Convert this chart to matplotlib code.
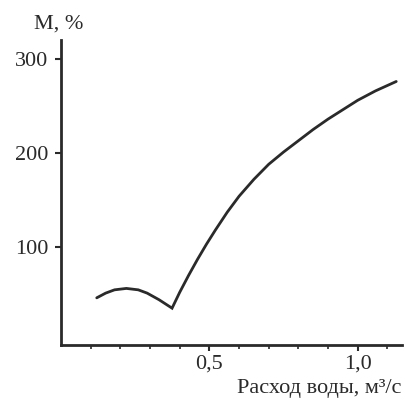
import matplotlib
matplotlib.use("Agg")
import matplotlib.pyplot as plt
from matplotlib.ticker import FixedLocator, FixedFormatter

# Data
left_x = [0.12, 0.15, 0.18, 0.22, 0.26, 0.29, 0.33, 0.374]
left_y = [46, 51, 54.5, 56, 54.5, 51, 44, 35]
right_x = [0.374, 0.40, 0.43, 0.46, 0.49, 0.52, 0.56, 0.60, 0.65, 0.70, 0.75, 0.80,
           0.85, 0.90, 0.95, 1.00, 1.06, 1.13]
right_y = [35, 52, 70, 87, 103, 118, 137, 154, 172, 188, 201, 213,
           225, 236, 246, 256, 266, 276]

x_major = [0.5, 1.0]
x_major_labels = ["0,5", "1,0"]
x_minor = [0.1, 0.2, 0.3, 0.4, 0.6, 0.7, 0.8, 0.9, 1.1]
y_ticks = [100, 200, 300]
y_labels = ["100", "200", "300"]

plt.rcParams['font.family'] = ['Liberation Serif', 'DejaVu Serif']

fig = plt.figure(figsize=(4.05, 4.01), dpi=100)
ax = fig.add_axes([0.151, 0.14, 0.842, 0.76])

col = '#2a2a2a'
ax.plot(left_x + right_x[1:], left_y + right_y[1:], color=col, lw=2.0,
        solid_joinstyle='miter', solid_capstyle='round')

ax.set_xlim(0, 1.15)
ax.set_ylim(-4, 320)

for s in ['top', 'right']:
    ax.spines[s].set_visible(False)
for s in ['left', 'bottom']:
    ax.spines[s].set_linewidth(2.0)
    ax.spines[s].set_color(col)

ax.xaxis.set_major_locator(FixedLocator(x_major))
ax.xaxis.set_major_formatter(FixedFormatter(x_major_labels))
ax.xaxis.set_minor_locator(FixedLocator(x_minor))
ax.yaxis.set_major_locator(FixedLocator(y_ticks))
ax.yaxis.set_major_formatter(FixedFormatter(y_labels))

ax.tick_params(axis='both', which='major', direction='out', length=4, width=1.5,
               color=col, labelcolor=col, labelsize=16, pad=5)
ax.tick_params(axis='x', which='minor', direction='out', length=3, width=1.2, color=col)
ax.tick_params(axis='x', which='major', pad=3)

fig.text(0.146, 0.94, "M, %", fontsize=16, color=col, ha='center', va='center')
fig.text(0.992, 0.03, "Расход воды, м³/с", fontsize=16, color=col, ha='right', va='center')

fig.savefig("out.png", dpi=100)
